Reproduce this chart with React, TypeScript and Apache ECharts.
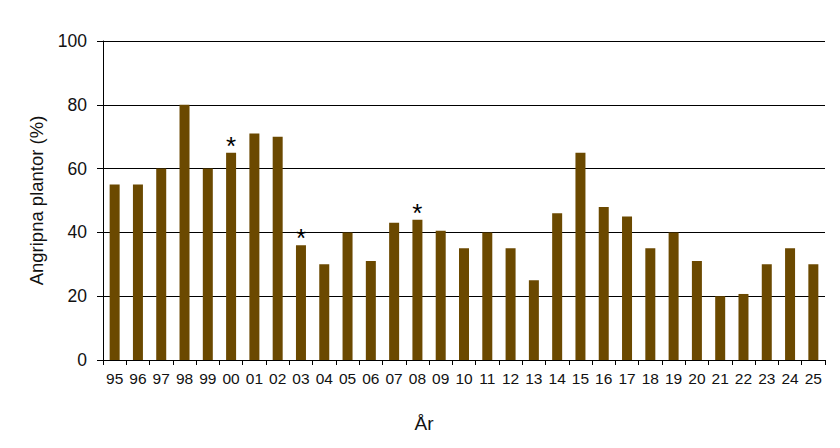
import { useEffect, useRef } from 'react';
import * as echarts from 'echarts';

const years = [
  '95', '96', '97', '98', '99', '00', '01', '02', '03', '04', '05', '06', '07', '08', '09', '10',
  '11', '12', '13', '14', '15', '16', '17', '18', '19', '20', '21', '22', '23', '24', '25',
];
const attacked = [
  55, 55, 60, 80, 60, 65, 71, 70, 36, 30, 40, 31, 43, 44, 40.5, 35,
  40, 35, 25, 46, 65, 48, 45, 35, 40, 31, 20, 20.7, 30, 35, 30,
];
// years marked with an asterisk
const starred = ['00', '03', '08'];
const yTicks = [0, 20, 40, 60, 80, 100];

const FONT = 'Liberation Sans, Arial, sans-serif';

export default function App() {
  const chartRef = useRef<HTMLDivElement>(null);

  useEffect(() => {
    if (!chartRef.current) return;
    document.body.style.margin = '0';
    const chart = echarts.init(chartRef.current, null, { renderer: 'svg' });

    chart.setOption({
      animation: false,
      textStyle: { fontFamily: FONT },
      grid: { left: 103, right: 15, top: 41, bottom: 88 },
      xAxis: {
        type: 'category',
        data: years,
        axisLine: { lineStyle: { color: '#000', width: 1 } },
        axisTick: { show: true, length: 5, lineStyle: { color: '#000' } },
        axisLabel: { color: '#111', fontSize: 15.5, margin: 10, interval: 0 },
      },
      yAxis: {
        type: 'value',
        min: yTicks[0],
        max: yTicks[yTicks.length - 1],
        interval: 20,
        name: 'Angripna plantor (%)',
        nameLocation: 'middle',
        nameGap: 57,
        nameTextStyle: { color: '#111', fontSize: 18.5 },
        axisLine: { show: true, lineStyle: { color: '#000', width: 1 } },
        axisTick: { show: true, length: 6, lineStyle: { color: '#000' } },
        axisLabel: { color: '#111', fontSize: 17.5, margin: 16 },
        splitLine: { lineStyle: { color: '#000', width: 1 } },
      },
      graphic: [
        {
          type: 'text',
          x: 424,
          y: 423,
          style: {
            text: 'År',
            fontSize: 19,
            fontFamily: FONT,
            fill: '#111',
            align: 'center',
            verticalAlign: 'middle',
          },
        },
      ],
      series: [
        {
          type: 'bar',
          barWidth: 10,
          itemStyle: { color: '#6b4900' },
          data: attacked.map((v, i) =>
            starred.includes(years[i])
              ? {
                  value: v,
                  label: {
                    show: true,
                    position: 'top',
                    formatter: '*',
                    fontSize: 26,
                    color: '#000',
                    distance: -6,
                  },
                }
              : v
          ),
        },
      ],
    });

    return () => {
      chart.dispose();
    };
  }, []);

  return <div ref={chartRef} style={{ width: 840, height: 448 }} />;
}
